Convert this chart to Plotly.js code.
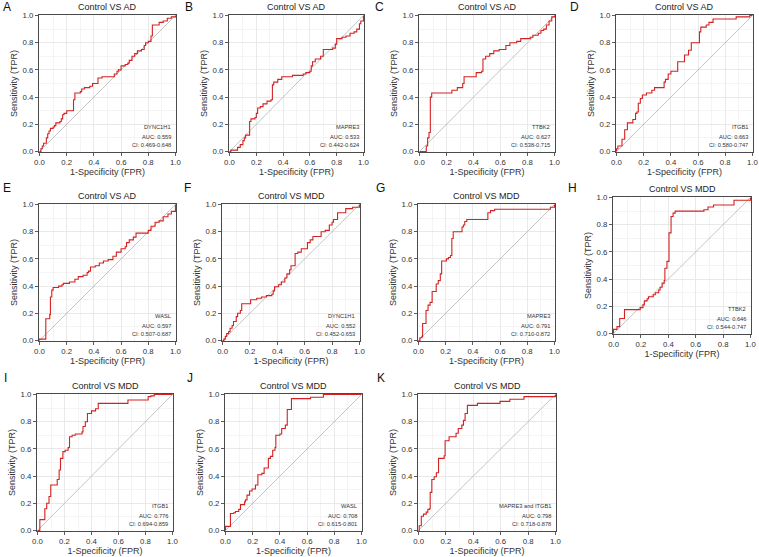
<!DOCTYPE html>
<html>
<head>
<meta charset="utf-8">
<script src="https://cdn.plot.ly/plotly-3.0.1.min.js"></script>
<style>
  html, body { margin: 0; padding: 0; background: #fff; }
  #roc-grid { width: 759px; height: 557px; }
</style>
</head>
<body>
<div id="roc-grid"></div>
<script>
const GRAPH_ID = 'roc-grid';

// panel labels and texts
const panelLetters = ['A', 'B', 'C', 'D', 'E', 'F', 'G', 'H', 'I', 'J', 'K'];
const comparisons = ['Control VS AD', 'Control VS AD', 'Control VS AD', 'Control VS AD', 'Control VS AD',
  'Control VS MDD', 'Control VS MDD', 'Control VS MDD', 'Control VS MDD', 'Control VS MDD', 'Control VS MDD'];
const genes = ['DYNC1H1', 'MAPRE3', 'TTBK2', 'ITGB1', 'WASL',
  'DYNC1H1', 'MAPRE3', 'TTBK2', 'ITGB1', 'WASL', 'MAPRE3 and ITGB1'];
const aucValues = [0.559, 0.533, 0.627, 0.663, 0.597, 0.552, 0.791, 0.646, 0.776, 0.708, 0.798];
const ciLow = [0.469, 0.442, 0.538, 0.580, 0.507, 0.452, 0.710, 0.544, 0.694, 0.615, 0.718];
const ciHigh = [0.648, 0.624, 0.715, 0.747, 0.687, 0.653, 0.872, 0.747, 0.859, 0.801, 0.878];
const tickValues = [0, 0.2, 0.4, 0.6, 0.8, 1.0];

// ROC step points: [FPR where the step happens, TPR after the step]
const rocA = [[0,0],[0.01,0.02],[0.02,0.04],[0.03,0.06],[0.05,0.10],[0.06,0.13],[0.07,0.15],[0.08,0.17],[0.10,0.18],[0.11,0.19],[0.12,0.21],[0.15,0.22],[0.16,0.24],[0.17,0.27],[0.18,0.28],[0.20,0.30],[0.25,0.38],[0.26,0.43],[0.30,0.44],[0.31,0.46],[0.33,0.47],[0.37,0.48],[0.39,0.50],[0.43,0.54],[0.46,0.55],[0.55,0.57],[0.57,0.59],[0.58,0.60],[0.60,0.63],[0.63,0.64],[0.65,0.65],[0.66,0.67],[0.68,0.70],[0.70,0.72],[0.72,0.74],[0.75,0.75],[0.77,0.78],[0.78,0.80],[0.80,0.81],[0.82,0.85],[0.83,0.93],[0.88,0.95],[0.91,0.96],[0.94,0.98],[0.97,0.99],[1,1]];
const rocB = [[0,0],[0.01,0.01],[0.06,0.03],[0.08,0.05],[0.10,0.08],[0.11,0.10],[0.12,0.12],[0.15,0.13],[0.15,0.22],[0.16,0.24],[0.19,0.25],[0.20,0.28],[0.21,0.32],[0.23,0.33],[0.25,0.35],[0.28,0.37],[0.31,0.38],[0.32,0.49],[0.33,0.51],[0.36,0.53],[0.39,0.55],[0.47,0.56],[0.55,0.57],[0.57,0.58],[0.60,0.59],[0.61,0.63],[0.62,0.66],[0.64,0.68],[0.68,0.70],[0.70,0.75],[0.77,0.76],[0.79,0.79],[0.80,0.83],[0.84,0.84],[0.87,0.85],[0.90,0.87],[0.93,0.88],[0.95,0.90],[0.97,0.94],[0.98,0.96],[1,1]];
const rocC = [[0,0],[0.05,0.04],[0.06,0.10],[0.07,0.14],[0.08,0.40],[0.09,0.43],[0.24,0.45],[0.28,0.47],[0.32,0.50],[0.33,0.55],[0.42,0.58],[0.46,0.59],[0.47,0.68],[0.49,0.70],[0.52,0.72],[0.55,0.74],[0.59,0.75],[0.64,0.78],[0.67,0.80],[0.72,0.81],[0.75,0.83],[0.82,0.84],[0.84,0.855],[0.88,0.87],[0.90,0.89],[0.92,0.90],[0.94,0.93],[0.96,0.96],[0.98,0.99],[1,1]];
const rocD = [[0,0],[0,0.02],[0.01,0.04],[0.04,0.09],[0.06,0.16],[0.08,0.21],[0.12,0.235],[0.14,0.28],[0.15,0.29],[0.16,0.355],[0.175,0.39],[0.19,0.415],[0.22,0.43],[0.26,0.45],[0.28,0.47],[0.35,0.51],[0.36,0.53],[0.38,0.57],[0.40,0.59],[0.45,0.66],[0.50,0.71],[0.53,0.745],[0.55,0.80],[0.61,0.88],[0.62,0.915],[0.66,0.93],[0.68,0.95],[0.71,0.975],[0.88,0.99],[0.98,1],[1,1]];
const rocE = [[0,0],[0,0.01],[0.046,0.16],[0.075,0.19],[0.08,0.32],[0.09,0.37],[0.10,0.39],[0.14,0.40],[0.165,0.41],[0.175,0.42],[0.22,0.43],[0.26,0.45],[0.285,0.47],[0.32,0.48],[0.35,0.50],[0.36,0.51],[0.375,0.54],[0.41,0.55],[0.44,0.57],[0.47,0.585],[0.505,0.595],[0.54,0.62],[0.565,0.65],[0.60,0.675],[0.63,0.69],[0.64,0.72],[0.66,0.74],[0.69,0.76],[0.71,0.79],[0.80,0.81],[0.82,0.84],[0.85,0.87],[0.88,0.88],[0.91,0.91],[0.945,0.93],[0.97,0.95],[1,1]];
const rocF = [[0,0],[0.01,0.01],[0.02,0.03],[0.03,0.05],[0.045,0.065],[0.055,0.09],[0.07,0.11],[0.08,0.14],[0.10,0.175],[0.11,0.20],[0.13,0.22],[0.14,0.27],[0.205,0.30],[0.25,0.31],[0.285,0.32],[0.32,0.33],[0.36,0.34],[0.37,0.365],[0.38,0.395],[0.41,0.41],[0.43,0.43],[0.455,0.46],[0.47,0.49],[0.49,0.52],[0.50,0.55],[0.53,0.64],[0.55,0.65],[0.575,0.675],[0.62,0.72],[0.64,0.74],[0.66,0.765],[0.72,0.80],[0.75,0.81],[0.78,0.85],[0.80,0.87],[0.81,0.89],[0.84,0.94],[0.90,0.97],[0.95,0.98],[1,1]];
const rocG = [[0,0],[0.01,0.02],[0.025,0.03],[0.03,0.125],[0.055,0.22],[0.07,0.26],[0.085,0.28],[0.10,0.36],[0.13,0.415],[0.145,0.44],[0.16,0.49],[0.17,0.585],[0.205,0.60],[0.22,0.61],[0.235,0.625],[0.245,0.75],[0.255,0.80],[0.32,0.835],[0.33,0.85],[0.34,0.875],[0.355,0.89],[0.51,0.94],[0.53,0.955],[0.56,0.965],[0.97,0.98],[1,1]];
const rocH = [[0,0],[0,0.03],[0.025,0.05],[0.045,0.11],[0.08,0.175],[0.195,0.19],[0.215,0.21],[0.225,0.24],[0.245,0.255],[0.255,0.27],[0.29,0.285],[0.305,0.30],[0.33,0.32],[0.34,0.34],[0.355,0.37],[0.37,0.39],[0.375,0.48],[0.39,0.53],[0.405,0.74],[0.42,0.86],[0.435,0.885],[0.45,0.90],[0.66,0.91],[0.69,0.93],[0.73,0.945],[0.88,0.98],[1,1]];
const rocI = [[0,0],[0.017,0.08],[0.054,0.16],[0.068,0.20],[0.085,0.25],[0.098,0.335],[0.146,0.375],[0.16,0.445],[0.17,0.53],[0.188,0.58],[0.205,0.59],[0.227,0.61],[0.237,0.69],[0.256,0.70],[0.28,0.71],[0.33,0.725],[0.337,0.765],[0.354,0.80],[0.37,0.86],[0.40,0.88],[0.43,0.895],[0.45,0.935],[0.67,0.96],[0.82,0.985],[0.84,0.99],[0.865,1],[1,1]];
const rocJ = [[0,0],[0,0.03],[0.036,0.125],[0.06,0.13],[0.073,0.14],[0.097,0.155],[0.11,0.19],[0.14,0.21],[0.146,0.225],[0.158,0.26],[0.177,0.29],[0.195,0.305],[0.22,0.335],[0.238,0.41],[0.267,0.42],[0.284,0.46],[0.315,0.53],[0.33,0.545],[0.347,0.59],[0.364,0.61],[0.37,0.70],[0.40,0.71],[0.413,0.75],[0.44,0.775],[0.454,0.89],[0.485,0.97],[0.625,0.98],[0.72,1],[1,1]];
const rocK = [[0,0],[0.005,0.035],[0.02,0.105],[0.036,0.12],[0.056,0.135],[0.068,0.155],[0.08,0.16],[0.085,0.28],[0.097,0.375],[0.114,0.395],[0.13,0.425],[0.146,0.53],[0.187,0.55],[0.194,0.66],[0.223,0.69],[0.274,0.715],[0.29,0.75],[0.316,0.775],[0.328,0.81],[0.34,0.86],[0.357,0.92],[0.43,0.935],[0.595,0.95],[0.667,0.965],[0.77,0.985],[1,1]];
const rocCurves = [rocA, rocB, rocC, rocD, rocE, rocF, rocG, rocH, rocI, rocJ, rocK];

// plot boxes in pixels: left, right, top, bottom
const W = 759, H = 557;
const boxes = [
  [39, 176, 15, 152], [229, 364, 15, 152], [419, 555, 15, 152], [616, 753, 15, 152],
  [39, 176, 204, 341], [222, 360, 204, 341], [418, 555, 204, 341], [613, 751, 197, 334],
  [37, 173, 394, 531], [225, 362, 394, 531], [418, 556, 394, 531]
];
const letterPos = [[7, 7], [189, 7], [379, 7], [574, 7], [7, 188], [187, 188], [380, 188], [572, 188], [5, 378], [190, 378], [381, 378]];

const FONT = 'Liberation Sans, Arial, sans-serif';
const RED = '#d42222';

const traces = [];
const layout = {
  width: W, height: H,
  margin: {l: 0, r: 0, t: 0, b: 0},
  paper_bgcolor: '#fff', plot_bgcolor: '#fff',
  showlegend: false,
  font: {family: FONT, color: '#222'},
  annotations: []
};

rocCurves.forEach(function (curve, i) {
  const n = i === 0 ? '' : String(i + 1);
  const xa = 'x' + n, ya = 'y' + n;
  const b = boxes[i];

  // chance line
  traces.push({
    x: [0, 1], y: [0, 1], xaxis: xa, yaxis: ya,
    mode: 'lines', line: {color: '#b5b5b5', width: 0.8}, hoverinfo: 'skip'
  });
  // ROC curve
  traces.push({
    x: curve.map(p => p[0]), y: curve.map(p => p[1]), xaxis: xa, yaxis: ya,
    mode: 'lines', line: {color: RED, width: 1.1, shape: 'hv'}, hoverinfo: 'skip'
  });

  const axisBase = {
    range: [-0.004, 1.004],
    tickvals: tickValues, tickformat: '.1f',
    ticks: 'outside', ticklen: 3, tickwidth: 0.8, tickcolor: '#333',
    tickfont: {size: 7.8, color: '#333', family: FONT},
    showline: true, mirror: true, linecolor: '#4a4a4a', linewidth: 1,
    showgrid: true, gridcolor: '#e6e6e6', gridwidth: 0.8,
    minor: {dtick: 0.1, tick0: 0, showgrid: true, gridcolor: '#ececec', gridwidth: 0.6},
    zeroline: false, automargin: false, fixedrange: true
  };

  layout['xaxis' + n] = Object.assign({}, axisBase, {
    domain: [b[0] / W, b[1] / W], anchor: ya,
    title: {text: '1-Specificity (FPR)', font: {size: 9, color: '#333'}, standoff: 2}
  });
  layout['yaxis' + n] = Object.assign({}, axisBase, {
    domain: [1 - b[3] / H, 1 - b[2] / H], anchor: xa,
    title: {text: 'Sensitivity (TPR)', font: {size: 9, color: '#333'}, standoff: 3}
  });

  // panel title
  layout.annotations.push({
    xref: 'paper', yref: 'paper', x: (b[0] + b[1]) / 2 / W, y: 1 - (b[2] - 8) / H,
    text: comparisons[i], showarrow: false, xanchor: 'center', yanchor: 'middle',
    font: {size: 9, color: '#222'}
  });
  // panel letter
  layout.annotations.push({
    xref: 'paper', yref: 'paper', x: letterPos[i][0] / W, y: 1 - letterPos[i][1] / H,
    text: panelLetters[i], showarrow: false, xanchor: 'center', yanchor: 'middle',
    font: {size: 12, color: '#111'}
  });
  // gene / AUC / CI
  const infoLines = [genes[i], 'AUC: ' + aucValues[i].toFixed(3),
    'CI: ' + ciLow[i].toFixed(3) + '-' + ciHigh[i].toFixed(3)];
  const infoY = [0.18, 0.11, 0.045];
  infoLines.forEach(function (txt, k) {
    layout.annotations.push({
      xref: xa, yref: ya, x: 0.985, y: infoY[k], text: txt, showarrow: false,
      xanchor: 'right', yanchor: 'middle', font: {size: 5.7, color: '#333'}
    });
  });
});

Plotly.newPlot(GRAPH_ID, traces, layout, {staticPlot: true, displayModeBar: false});
</script>
</body>
</html>
